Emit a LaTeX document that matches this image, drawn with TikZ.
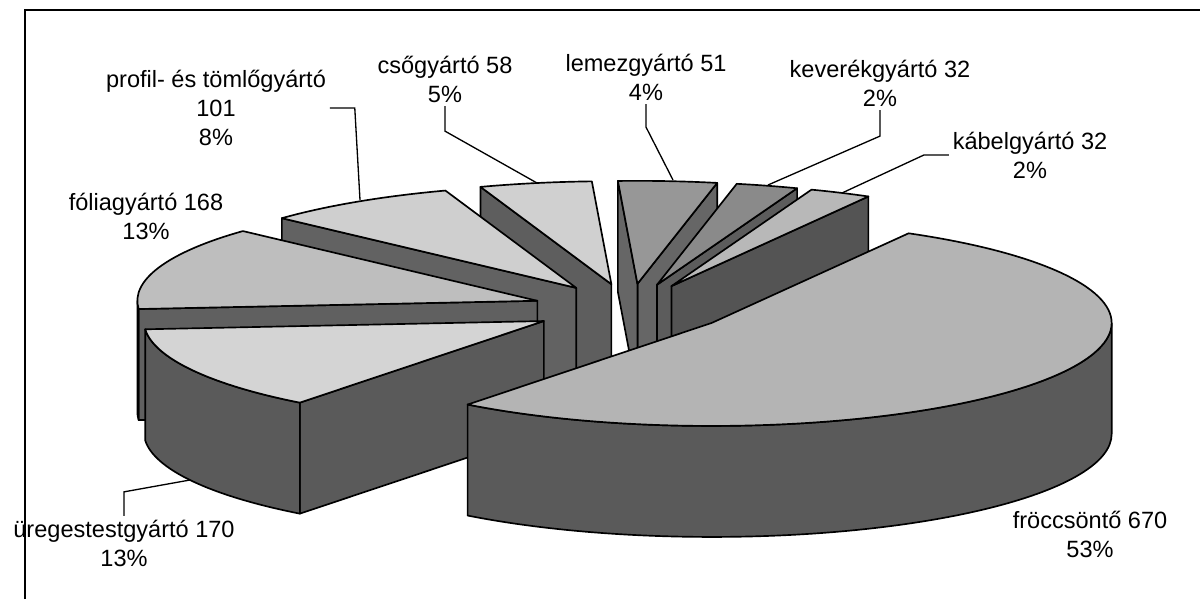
\documentclass[tikz,border=0pt]{standalone}
\usepackage{fontspec}
\setmainfont{Liberation Sans}
\usetikzlibrary{calc}

\definecolor{froccstop}{HTML}{B4B4B4}
\definecolor{froccswall}{HTML}{5A5A5A}
\definecolor{uregestop}{HTML}{D4D4D4}
\definecolor{uregeswall}{HTML}{5A5A5A}
\definecolor{foliatop}{HTML}{BEBEBE}
\definecolor{foliawall}{HTML}{606060}
\definecolor{profiltop}{HTML}{CFCFCF}
\definecolor{profilwall}{HTML}{626262}
\definecolor{csotop}{HTML}{D0D0D0}
\definecolor{csowall}{HTML}{5E5E5E}
\definecolor{lemeztop}{HTML}{979797}
\definecolor{lemezwall}{HTML}{666666}
\definecolor{keverektop}{HTML}{8A8A8A}
\definecolor{keverekwall}{HTML}{5C5C5C}
\definecolor{kabeltop}{HTML}{B8B8B8}
\definecolor{kabelwall}{HTML}{545454}

\tikzset{
  face/.style={draw=black, line width=0.95pt, line join=round},
  leader/.style={line width=0.75pt},
  label text/.style={align=center, inner sep=2pt,
    font=\fontsize{13.4}{16.5}\selectfont},
}

\begin{document}
\begin{tikzpicture}[x=0.02cm, y=0.02cm]
    % Setup the pie:
    \def\rx{400}
    \def\ry{103}
    \def\h{111}
    \def\ex{98}
    \def\ox{630}
    \def\oy{290}

    \useasboundingbox (0,0) rectangle (1200,599);

    % apex of a slice, pushed out along its middle angle
    \def\slicecentre#1#2#3{%
	\pgfmathsetmacro\midang{(#2+#3)/2}
	\coordinate (#1) at ({\ox+\ex*cos(\midang)},{\oy+\ex*\ry/\rx*sin(\midang)});}
    % a cut side of a slice
    \def\sliceside#1#2#3{%
	\draw [face,fill=#3] (#1) -- ++({\rx*cos(#2)},{\ry*sin(#2)}) -- ++(0,-\h)
	    -- ($(#1)+(0,-\h)$) -- cycle;}
    % the outer rim, from #2 to #3
    \def\slicerim#1#2#3#4{%
	\draw [face,fill=#4] ($(#1)+({\rx*cos(#2)},{\ry*sin(#2)})$)
	    arc [start angle=#2, end angle=#3, x radius=\rx, y radius=\ry]
	    -- ++(0,-\h)
	    arc [start angle=#3, end angle=#2, x radius=\rx, y radius=\ry]
	    -- cycle;}
    % the top of a slice
    \def\slicetop#1#2#3#4{%
	\draw [face,fill=#4] (#1) -- ++({\rx*cos(#2)},{\ry*sin(#2)})
	    arc [start angle=#2, end angle=#3, x radius=\rx, y radius=\ry]
	    -- cycle;}

    % Back slices first
    \slicecentre{lemez apex}{78.5}{92.8}
    \sliceside{lemez apex}{78.5}{lemezwall}
    \sliceside{lemez apex}{92.8}{lemezwall}
    \slicetop{lemez apex}{78.5}{92.8}{lemeztop}

    \slicecentre{cso apex}{92.8}{109.1}
    \sliceside{cso apex}{109.1}{csowall}
    \slicetop{cso apex}{92.8}{109.1}{csotop}

    \slicecentre{keverek apex}{69.5}{78.5}
    \sliceside{keverek apex}{69.5}{keverekwall}
    \slicetop{keverek apex}{69.5}{78.5}{keverektop}

    \slicecentre{kabel apex}{60.5}{69.5}
    \sliceside{kabel apex}{60.5}{kabelwall}
    \slicetop{kabel apex}{60.5}{69.5}{kabeltop}

    \slicecentre{profil apex}{109.1}{137.4}
    \sliceside{profil apex}{137.4}{profilwall}
    \slicetop{profil apex}{109.1}{137.4}{profiltop}

    % Then the front ones
    \slicecentre{folia apex}{137.4}{184.6}
    \sliceside{folia apex}{184.6}{foliawall}
    \slicerim{folia apex}{180}{184.6}{foliawall}
    \slicetop{folia apex}{137.4}{184.6}{foliatop}

    \slicecentre{ureges apex}{184.6}{232.4}
    \sliceside{ureges apex}{232.4}{uregeswall}
    \slicerim{ureges apex}{184.6}{232.4}{uregeswall}
    \slicetop{ureges apex}{184.6}{232.4}{uregestop}

    \slicecentre{froccs apex}{232.4}{420.5}
    \slicerim{froccs apex}{232.4}{360}{froccswall}
    \slicetop{froccs apex}{232.4}{420.5}{froccstop}

    % Labels
    \node [label text] (profil label) at (216,491) {profil- és tömlőgyártó\\101\\8\%};
    \node [label text] (folia label)  at (146,383) {fóliagyártó 168\\13\%};
    \node [label text] (cso label)    at (445,520) {csőgyártó 58\\5\%};
    \node [label text] (lemez label)  at (646,522) {lemezgyártó 51\\4\%};
    \node [label text] (keverek label) at (880,516) {keverékgyártó 32\\2\%};
    \node [label text] (kabel label)  at (1030,444) {kábelgyártó 32\\2\%};
    \node [label text] (ureges label) at (124,56) {üregestestgyártó 170\\13\%};
    \node [label text] (froccs label) at (1090,65) {fröccsöntő 670\\53\%};

    % And the leader lines
    \coordinate (profil tip)  at (360,399);
    \coordinate (cso tip)     at (537,416);
    \coordinate (lemez tip)   at (673,419);
    \coordinate (keverek tip) at (768,414);
    \coordinate (kabel tip)   at (842,406);
    \coordinate (ureges tip)  at (190,119);
    \draw [leader] (profil label.east) -- ++(25,0) -- (profil tip);
    \draw [leader] (cso label.south) -- ++(0,-25) -- (cso tip);
    \draw [leader] (lemez label.south) -- ++(0,-23) -- (lemez tip);
    \draw [leader] (keverek label.south) -- ++(0,-26) -- (keverek tip);
    \draw [leader] (kabel label.west) -- ++(-25,0) -- (kabel tip);
    \draw [leader] (ureges label.north) -- ++(0,24) -- (ureges tip);

    % Frame
    \draw [line width=1.2pt] (25,0) -- (25,589) -- (1200,589);
\end{tikzpicture}
\end{document}
